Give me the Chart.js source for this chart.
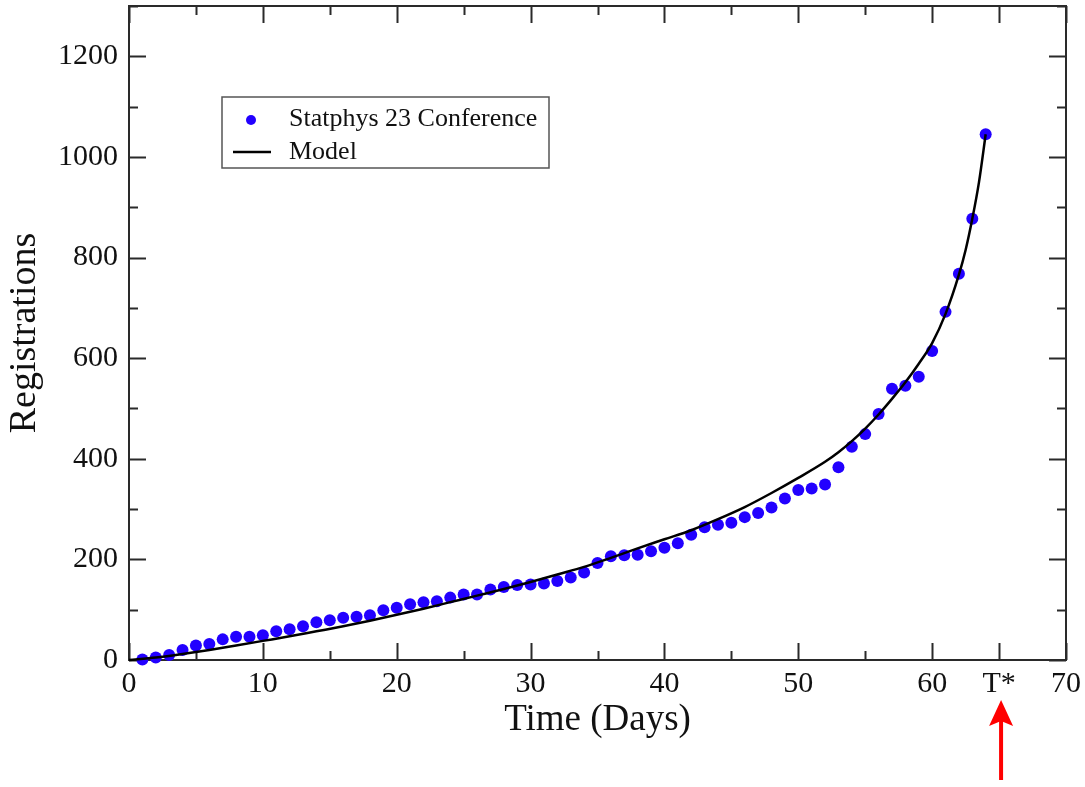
<!DOCTYPE html>
<html>
<head>
<meta charset="utf-8">
<script src="https://cdn.jsdelivr.net/npm/chart.js@4.4.1/dist/chart.umd.min.js"></script>
<style>
  html, body { margin: 0; padding: 0; background: #fff; }
  #wrap { width: 1085px; height: 787px; }
</style>
</head>
<body>
<div id="wrap"><canvas id="chart" width="1085" height="787"></canvas></div>
<script>
// daily registrations
const days = [
  1, 2, 3, 4, 5, 6, 7, 8, 9, 10, 11, 12, 13, 14, 15, 16,
  17, 18, 19, 20, 21, 22, 23, 24, 25, 26, 27, 28, 29, 30, 31, 32,
  33, 34, 35, 36, 37, 38, 39, 40, 41, 42, 43, 44, 45, 46, 47, 48,
  49, 50, 51, 52, 53, 54, 55, 56, 57, 58, 59, 60, 61, 62, 63, 64
];
const registrations = [
  1, 5, 10, 20, 29, 32, 41, 46, 46, 49, 57, 61, 67, 75, 79, 84,
  86, 89, 99, 104, 111, 115, 117, 124, 130, 130, 140, 145, 149, 150, 152, 157,
  164, 174, 193, 206, 208, 209, 216, 223, 232, 249, 264, 269, 273, 284, 292, 303,
  321, 338, 341, 349, 383, 424, 449, 489, 539, 545, 563, 614, 692, 768, 877, 1045
];

// model curve
const modelDays = [
  0, 2, 4, 6, 8, 10, 12, 14, 16, 18, 20, 22, 24, 26, 28, 30, 32, 34, 36, 38,
  40, 42, 44, 46, 48, 50, 52, 53, 54, 55, 56, 57, 58, 59, 60, 61, 62, 62.5, 63, 63.5, 64
];
const modelValues = [
  0, 5, 12, 20, 29, 38, 47, 57, 67, 78, 90, 102, 115, 128, 141, 155, 170, 185, 203, 222,
  240, 258, 280, 304, 332, 362, 394, 413, 435, 460, 488, 519, 552, 589, 630, 688, 766, 815, 877, 950, 1045
];

const seriesNames = ['Statphys 23 Conference', 'Model'];
const xTitle = 'Time (Days)';
const yTitle = 'Registrations';
const tStarDay = 65;

const serif = "'Liberation Serif', 'DejaVu Serif', serif";
const dotColor = '#2200ff';
const frameColor = '#2a2a2a';

// frame, inward ticks on all four sides, legend and T* arrow
const framePlugin = {
  id: 'frame',
  beforeDatasetsDraw(chart) {
    const { ctx, chartArea: a, scales: { x, y } } = chart;
    ctx.save();
    ctx.strokeStyle = frameColor;
    ctx.lineWidth = 2;
    ctx.strokeRect(a.left, a.top, a.right - a.left, a.bottom - a.top);
    ctx.beginPath();
    for (let v = x.min; v <= x.max; v += 5) {
      const px = Math.round(x.getPixelForValue(v)) + 0.5;
      const len = (v % 10 === 0 || v === tStarDay) ? 17 : 9;
      ctx.moveTo(px, a.bottom); ctx.lineTo(px, a.bottom - len);
      ctx.moveTo(px, a.top); ctx.lineTo(px, a.top + len);
    }
    for (let v = y.min; v <= y.max; v += 100) {
      const py = Math.round(y.getPixelForValue(v)) + 0.5;
      const len = v % 200 === 0 ? 17 : 9;
      ctx.moveTo(a.left, py); ctx.lineTo(a.left + len, py);
      ctx.moveTo(a.right, py); ctx.lineTo(a.right - len, py);
    }
    ctx.stroke();
    ctx.restore();
  },
  afterDraw(chart) {
    const { ctx, scales: { x } } = chart;
    ctx.save();
    // legend box
    const bx = 222, by = 97, bw = 327, bh = 71;
    ctx.fillStyle = '#fff';
    ctx.fillRect(bx, by, bw, bh);
    ctx.strokeStyle = '#555';
    ctx.lineWidth = 1.5;
    ctx.strokeRect(bx, by, bw, bh);
    ctx.fillStyle = dotColor;
    ctx.beginPath();
    ctx.arc(251, 120, 5, 0, Math.PI * 2);
    ctx.fill();
    ctx.strokeStyle = '#000';
    ctx.lineWidth = 2.5;
    ctx.beginPath();
    ctx.moveTo(233, 152); ctx.lineTo(271, 152);
    ctx.stroke();
    ctx.fillStyle = '#111';
    ctx.font = '26px ' + serif;
    ctx.textBaseline = 'middle';
    ctx.fillText(chart.data.datasets[0].label, 289, 119);
    ctx.fillText(chart.data.datasets[1].label, 289, 152);

    // red arrow under T*
    const ax = x.getPixelForValue(tStarDay) + 2;
    ctx.strokeStyle = '#ff0000';
    ctx.fillStyle = '#ff0000';
    ctx.lineWidth = 4;
    ctx.beginPath();
    ctx.moveTo(ax, 780); ctx.lineTo(ax, 720);
    ctx.stroke();
    ctx.beginPath();
    ctx.moveTo(ax, 700);
    ctx.lineTo(ax - 12, 726);
    ctx.lineTo(ax, 721);
    ctx.lineTo(ax + 12, 726);
    ctx.closePath();
    ctx.fill();
    ctx.restore();
  }
};

new Chart(document.getElementById('chart'), {
  type: 'scatter',
  data: {
    datasets: [
      {
        label: seriesNames[0],
        data: days.map((d, i) => ({ x: d, y: registrations[i] })),
        backgroundColor: dotColor,
        borderColor: dotColor,
        pointRadius: 6,
        pointBorderWidth: 0,
        showLine: false,
        clip: false,
        order: 2
      },
      {
        label: seriesNames[1],
        data: modelDays.map((d, i) => ({ x: d, y: modelValues[i] })),
        borderColor: '#000',
        borderWidth: 2.5,
        pointRadius: 0,
        showLine: true,
        cubicInterpolationMode: 'monotone',
        clip: false,
        order: 1
      }
    ]
  },
  options: {
    responsive: false,
    animation: false,
    layout: { padding: { left: 0, right: 19, top: 4, bottom: 0 } },
    plugins: {
      legend: { display: false },
      tooltip: { enabled: false }
    },
    scales: {
      x: {
        type: 'linear',
        min: 0,
        max: 70,
        grid: { display: false, drawTicks: false },
        border: { display: false },
        afterFit: (s) => { s.height = 127; s.paddingLeft = 0; s.paddingRight = 0; },
        ticks: {
          stepSize: 5,
          autoSkip: false,
          maxRotation: 0,
          padding: 6,
          color: '#111',
          font: { family: serif, size: 30 },
          callback: (v) => v === tStarDay ? 'T*' : (v % 10 === 0 ? v : '')
        },
        title: {
          display: true,
          text: xTitle,
          color: '#111',
          font: { family: serif, size: 37 },
          padding: { top: 0, bottom: 45 }
        }
      },
      y: {
        min: 0,
        max: 1300,
        grid: { display: false, drawTicks: false },
        border: { display: false },
        afterFit: (s) => { s.width = 129; s.paddingTop = 0; s.paddingBottom = 0; },
        ticks: {
          stepSize: 200,
          includeBounds: false,
          padding: 11,
          color: '#111',
          font: { family: serif, size: 30 },
          callback: (v) => String(v)
        },
        title: {
          display: true,
          text: yTitle,
          color: '#111',
          font: { family: serif, size: 38 },
          padding: { top: 2, bottom: 0 }
        }
      }
    }
  },
  plugins: [framePlugin]
});
</script>
</body>
</html>
